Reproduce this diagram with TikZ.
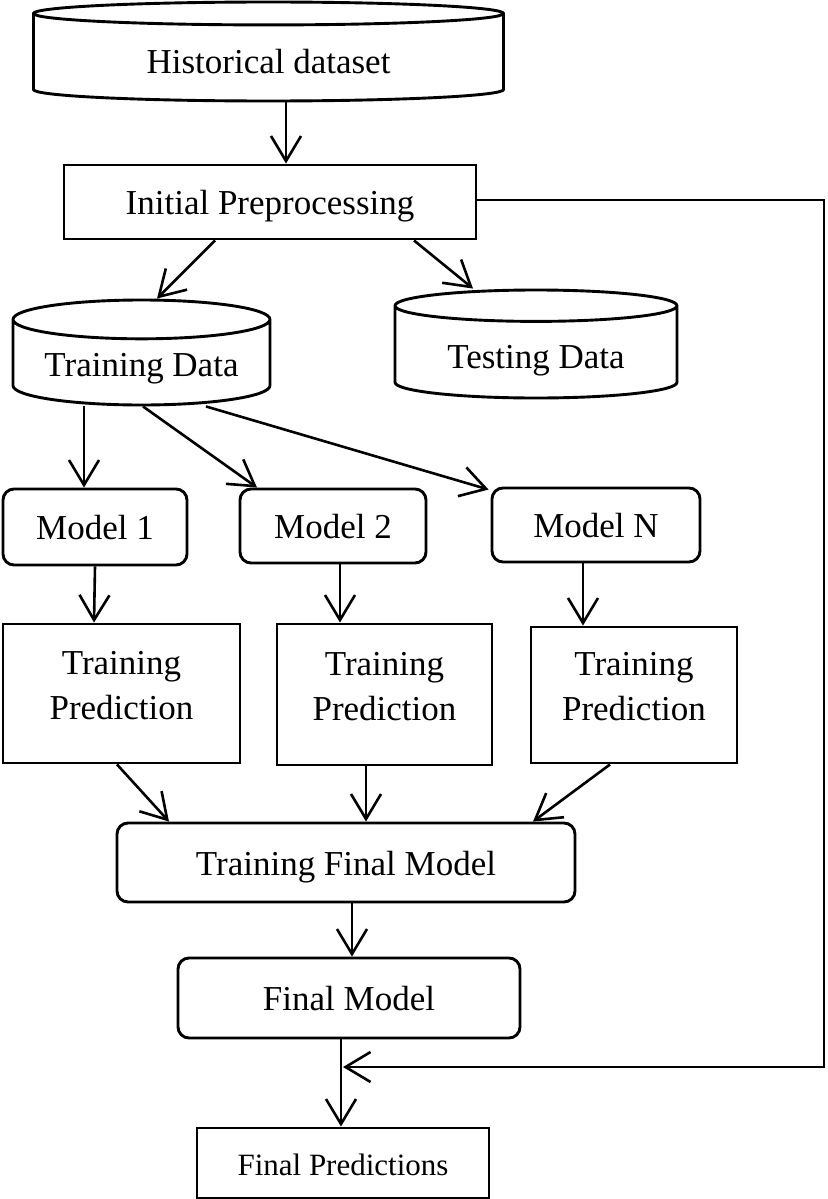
\documentclass[tikz,border=0pt]{standalone}
\usepackage{fontspec}
\setmainfont{Liberation Serif}
\usetikzlibrary{shapes.geometric,arrows.meta,positioning,calc}
\tikzstyle{every node}+=[font=\fontsize{35}{45}\selectfont,inner sep=0pt,text height=29pt,text depth=4pt]
\tikzstyle{every path}+=[line width=2.9pt]
\tikzstyle{db}=[cylinder,shape border rotate=90,draw,anchor=shape center,text height=36pt]
\tikzstyle{box}=[rectangle,draw]
\tikzstyle{rbox}=[rectangle,draw,rounded corners=11pt]
\tikzstyle{tpbox}=[box,minimum width=210pt,text height=24pt,text depth=63pt]
\tikzstyle{arr}=[line width=2.6pt,-{Straight Barb[length=25pt,width=30pt,line width=2.6pt]}]
\newcommand{\twolines}[2]{\begin{tabular}[t]{@{}c@{}}#1\\#2\end{tabular}}

\begin{document}
\begin{tikzpicture}[x=1pt,y=-1pt]
\useasboundingbox (0,0) rectangle (827,1199);
% data
\node[db,minimum width=470pt,minimum height=99pt,aspect=0.094] (hist) at (268.5,51.5) {Historical dataset};
\node[box,minimum width=412pt,minimum height=74pt] (prep) at (270,202) {Initial Preprocessing};
\node[db,minimum width=257pt,minimum height=105pt,aspect=0.2,text height=32pt] (train) at (141.5,352.5) {Training Data};
\node[db,minimum width=282pt,minimum height=108pt,aspect=0.177] (test) at (536,344) {Testing Data};

% models
\node[rbox,minimum width=184pt,minimum height=76pt] (m1) at (95,527) {Model 1};
\node[rbox,minimum width=186pt,minimum height=74pt] (m2) at (333,526) {Model 2};
\node[rbox,minimum width=208pt,minimum height=74pt] (mN) at (596,525) {Model N};

\node[tpbox,minimum width=237pt,minimum height=139pt] (tp1) at (121.5,693.5) {\twolines{Training}{Prediction}};
\node[tpbox,minimum width=215pt,minimum height=141pt] (tp2) at (384.5,694.5) {\twolines{Training}{Prediction}};
\node[tpbox,minimum width=206pt,minimum height=136pt] (tp3) at (634,695) {\twolines{Training}{Prediction}};

% final
\node[rbox,minimum width=458pt,minimum height=79pt] (tfm) at (346,862.5) {Training Final Model};
\node[rbox,minimum width=342pt,minimum height=80pt] (fm) at (349,998) {Final Model};
\node[box,minimum width=292pt,minimum height=70pt,font=\fontsize{31}{36}\selectfont] (fp) at (343,1163) {Final Predictions};

\coordinate (corner) at (824,1067);
\coordinate (join) at (341,1067);

\draw[arr] ([xshift=17.5pt]hist.south) -- ([xshift=16pt]prep.north);
\draw[arr] ([xshift=-55pt]prep.south) -- ([xshift=15.5pt]train.north);
\draw[arr] ([xshift=144pt]prep.south) -- ([xshift=-63pt]test.north);
\draw[arr] ([xshift=-57.5pt]train.south) -- ([xshift=-11pt]m1.north);
\draw[arr] ([xshift=1.5pt]train.south) -- ([xshift=-76pt]m2.north);
\draw[arr] ([xshift=64.5pt]train.south) -- ([xshift=-2pt,yshift=-3pt]mN.north west);
\draw[arr] (m1.south) -- ([xshift=-27.5pt]tp1.north);
\draw[arr] ([xshift=7pt]m2.south) -- ([xshift=-44.5pt]tp2.north);
\draw[arr] ([xshift=-13pt]mN.south) -- ([xshift=-51pt]tp3.north);
\draw[arr] ([xshift=-4.5pt]tp1.south) -- ([xshift=-177pt]tfm.north);
\draw[arr] ([xshift=-18.5pt]tp2.south) -- ([xshift=20pt]tfm.north);
\draw[arr] ([xshift=-24pt]tp3.south) -- ([xshift=187pt]tfm.north);
\draw[arr] ([xshift=6pt]tfm.south) -- ([xshift=3pt]fm.north);
\draw[arr] ([xshift=-8pt]fm.south) -- ([xshift=-2pt]fp.north);
\draw[arr] ([yshift=2pt]prep.east) -| (corner) -- ([xshift=2pt]join);
\end{tikzpicture}
\end{document}
